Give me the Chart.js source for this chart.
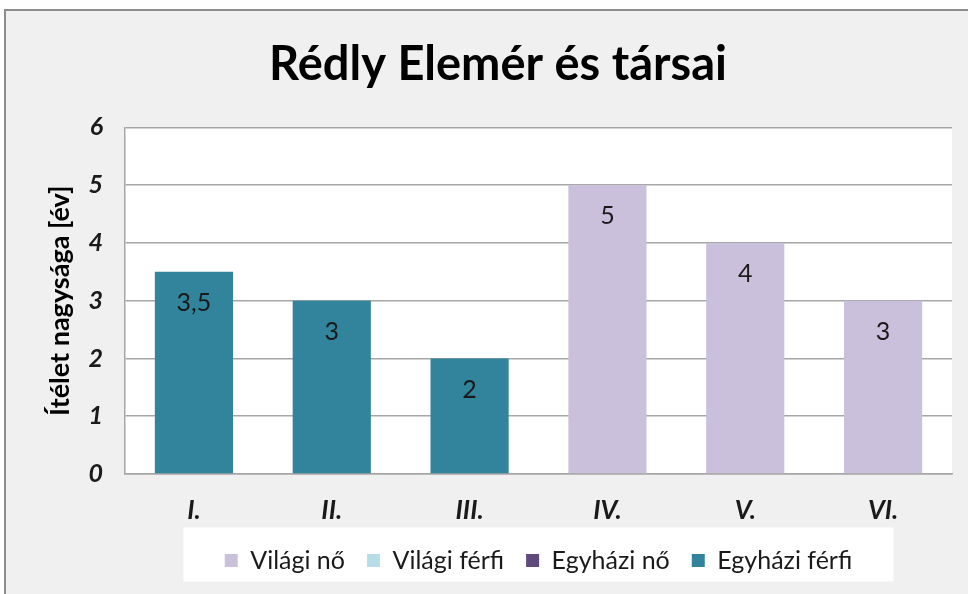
<!DOCTYPE html>
<html>
<head>
<meta charset="utf-8">
<script src="https://cdn.jsdelivr.net/npm/chart.js@4/dist/chart.umd.min.js"></script>
<style>
  body { margin: 0; background: #ffffff; }
  canvas { display: block; }
</style>
</head>
<body>
<canvas id="myChart" width="968" height="594"></canvas>
<script>
var categories = ['I.', 'II.', 'III.', 'IV.', 'V.', 'VI.'];
var vilagiNo = [null, null, null, 5, 4, 3];
var vilagiFerfi = [null, null, null, null, null, null];
var egyhaziNo = [null, null, null, null, null, null];
var egyhaziFerfi = [3.5, 3, 2, null, null, null];
var yTicks = [0, 1, 2, 3, 4, 5, 6];

var fontName = 'Lato, "Open Sans", sans-serif';

/* background, border and white plot / legend boxes */
var backgroundPlugin = {
  id: 'background',
  beforeDraw: function(chart) {
    var ctx = chart.ctx;
    var area = chart.chartArea;
    ctx.save();
    ctx.fillStyle = '#ffffff';
    ctx.fillRect(0, 0, chart.width, chart.height);
    ctx.fillStyle = '#f0f0f0';
    ctx.fillRect(6, 11, chart.width, chart.height);
    ctx.fillStyle = '#8c8c8c';
    ctx.fillRect(4, 9, chart.width, 2);
    ctx.fillRect(4, 9, 2, chart.height);
    ctx.fillStyle = '#ffffff';
    ctx.fillRect(area.left, area.top, area.right - area.left, area.bottom - area.top);
    var legend = chart.legend;
    var mid = (area.left + area.right) / 2;
    var ly = legend.top + legend.height / 2;
    ctx.fillRect(mid - 355, ly - 27, 710, 54);
    ctx.restore();
  }
};

/* value labels inside the top of each bar */
var labelPlugin = {
  id: 'barLabels',
  afterDatasetsDraw: function(chart) {
    var ctx = chart.ctx;
    ctx.save();
    ctx.font = '25px ' + fontName;
    ctx.fillStyle = '#1a1a1a';
    ctx.textAlign = 'center';
    ctx.textBaseline = 'middle';
    chart.data.datasets.forEach(function(ds, i) {
      var meta = chart.getDatasetMeta(i);
      meta.data.forEach(function(bar, j) {
        var v = ds.data[j];
        if (v === null || v === undefined) return;
        ctx.fillText(String(v).replace('.', ','), bar.x, bar.y + 31);
      });
    });
    ctx.restore();
  }
};

var config = {
  type: 'bar',
  data: {
    labels: categories,
    datasets: [
      { label: 'Világi nő', data: vilagiNo, backgroundColor: '#cbc0dc', borderWidth: 0 },
      { label: 'Világi férfi', data: vilagiFerfi, backgroundColor: '#b7dde8', borderWidth: 0 },
      { label: 'Egyházi nő', data: egyhaziNo, backgroundColor: '#604a7b', borderWidth: 0 },
      { label: 'Egyházi férfi', data: egyhaziFerfi, backgroundColor: '#31849b', borderWidth: 0 }
    ]
  },
  options: {
    responsive: false,
    animation: false,
    layout: { padding: { left: 44, right: 16, top: 0, bottom: 11 } },
    datasets: { bar: { categoryPercentage: 1, barPercentage: 0.567 } },
    scales: {
      x: {
        stacked: true,
        grid: { display: false, drawTicks: false },
        border: { display: true, color: '#a6a6a6', width: 1.5 },
        ticks: { color: '#1a1a1a', padding: 21, font: { family: fontName, size: 26, weight: 'bold', style: 'italic' } },
        afterFit: function(scale) { scale.height = 52; }
      },
      y: {
        stacked: true,
        min: 0,
        max: 6,
        afterBuildTicks: function(scale) {
          scale.ticks = yTicks.map(function(v) { return { value: v }; });
        },
        grid: { color: '#a6a6a6', lineWidth: 1.5, drawTicks: false },
        border: { display: true, color: '#a6a6a6', width: 1.5 },
        ticks: { color: '#1a1a1a', padding: 22, font: { family: fontName, size: 25, weight: 'bold', style: 'italic' } },
        title: {
          display: true,
          text: 'Ítélet nagysága [év]',
          color: '#000000',
          padding: 0,
          font: { family: fontName, size: 27, weight: 'bold' }
        },
        afterFit: function(scale) { scale.width = 81; }
      }
    },
    plugins: {
      title: {
        display: true,
        text: 'Rédly Elemér és társai',
        color: '#000000',
        padding: { top: 37, bottom: 34 },
        font: { family: fontName, size: 47, weight: 'bold' }
      },
      legend: {
        position: 'bottom',
        fullSize: false,
        labels: {
          color: '#1a1a1a',
          boxWidth: 13,
          boxHeight: 13,
          padding: 22,
          font: { family: fontName, size: 25 }
        }
      },
      tooltip: { enabled: false }
    }
  },
  plugins: [backgroundPlugin, labelPlugin]
};

window.onload = function() {
  var ctx = document.getElementById('myChart').getContext('2d');
  window.barChart = new Chart(ctx, config);
};
</script>
</body>
</html>
